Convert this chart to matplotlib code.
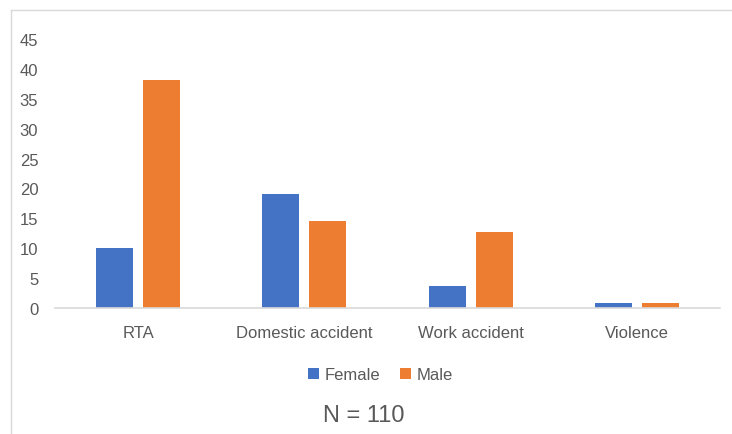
import numpy as np
import matplotlib
matplotlib.use("Agg")
import matplotlib.pyplot as plt
from matplotlib.lines import Line2D

categories = ["RTA", "Domestic accident", "Work accident", "Violence"]
female = [10.0, 19.1, 3.6, 0.9]
male = [38.2, 14.5, 12.7, 0.9]
n_total = 110

plt.rcParams["font.family"] = ["Liberation Sans", "DejaVu Sans"]
grey = "#595959"

fig = plt.figure(figsize=(7.32, 4.35), dpi=100)
ax = fig.add_axes([0.0751, 0.2897, 0.9085, 0.6184])

x = np.arange(len(categories))
w = 0.223
ax.bar(x - 0.141, female, w, color="#4472C4", label="Female")
ax.bar(x + 0.141, male, w, color="#ED7D31", label="Male")

ax.set_xlim(-0.5, len(categories) - 0.5)
ax.set_ylim(0, 45)
ax.set_yticks(range(0, 50, 5))
ax.set_xticks(x)
ax.set_xticklabels(categories)
ax.tick_params(axis="both", length=0, labelsize=12, labelcolor=grey)
ax.tick_params(axis="y", pad=12)
ax.tick_params(axis="x", pad=12)
for s in ["top", "right", "left"]:
    ax.spines[s].set_visible(False)
ax.spines["bottom"].set_color("#d9d9d9")
ax.spines["bottom"].set_linewidth(1.2)

leg = fig.legend(loc="center", bbox_to_anchor=(0.52, 0.136), ncol=2, frameon=False,
                 fontsize=12, handlelength=0.65, handleheight=0.65, columnspacing=1.2,
                 handletextpad=0.35)
for t in leg.get_texts():
    t.set_color(grey)

fig.text(0.497, 0.043, "N = " + str(n_total), ha="center", va="center", fontsize=17, color=grey)

# chart frame
fig.add_artist(Line2D([11 / 732, 11 / 732], [0, 1 - 11 / 435], transform=fig.transFigure,
                      color="#d9d9d9", lw=1))
fig.add_artist(Line2D([11 / 732, 1], [1 - 11 / 435, 1 - 11 / 435], transform=fig.transFigure,
                      color="#d9d9d9", lw=1))

fig.savefig("out.png", dpi=100)
